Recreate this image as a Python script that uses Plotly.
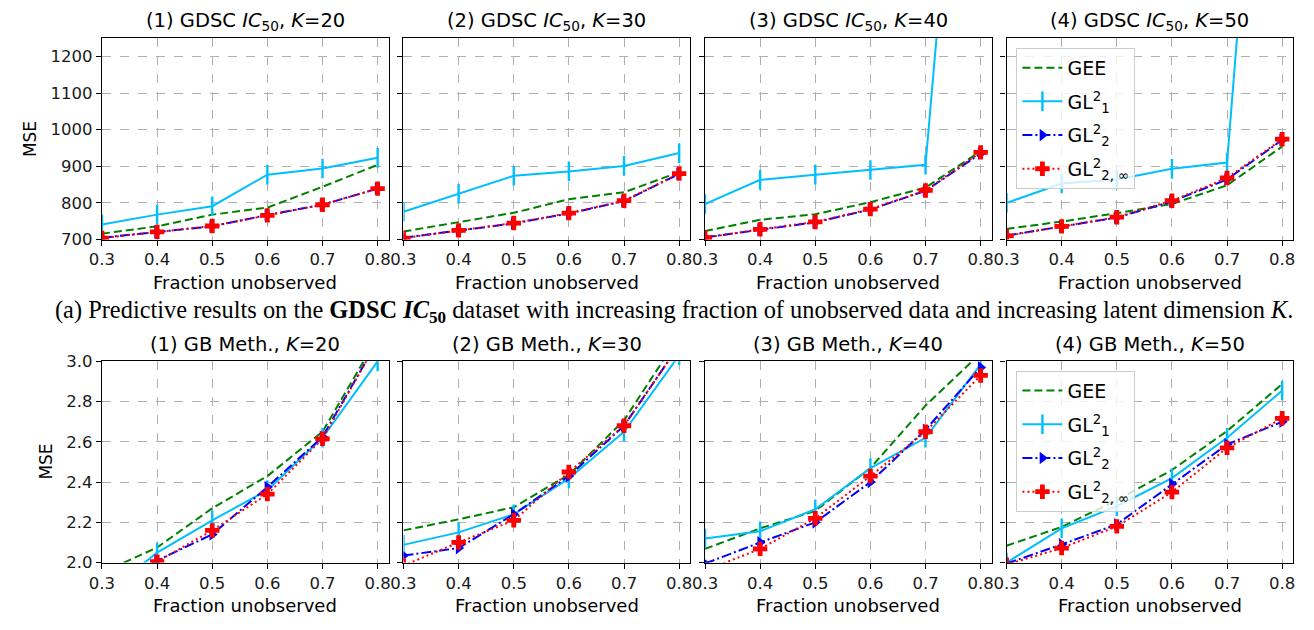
import plotly.graph_objects as go

# Fraction of entries held out
fractions = [0.3, 0.4, 0.5, 0.6, 0.7, 0.8]
latent_dims = [20, 30, 40, 50]

# GDSC IC50 results (MSE), keyed by latent dimension K
gdsc_gee = {20: [716, 736, 768, 787, 844, 904],
            30: [722, 747, 773, 810, 829, 884],
            40: [723, 754, 769, 802, 842, 941],
            50: [729, 749, 772, 797, 848, 954]}
gdsc_gl1 = {20: [741, 768, 791, 877, 894, 923],
            30: [776, 825, 874, 886, 901, 936],
            40: [797, 863, 877, 890, 904, 2650],
            50: [800, 853, 864, 893, 910, 2800]}
gdsc_gl2 = {20: [705, 720, 736, 767, 795, 839],
            30: [705, 724, 744, 771, 805, 879],
            40: [706, 727, 747, 782, 833, 935],
            50: [711, 735, 760, 804, 864, 972]}
gdsc_gl2inf = {20: [704, 721, 737, 766, 795, 839],
               30: [704, 725, 745, 772, 806, 880],
               40: [705, 728, 748, 783, 834, 938],
               50: [710, 736, 761, 806, 868, 974]}

# GB methylation results (MSE), keyed by latent dimension K
gb_gee = {20: [1.95, 2.075, 2.27, 2.43, 2.65, 3.12],
          30: [2.16, 2.215, 2.275, 2.437, 2.707, 3.126],
          40: [2.068, 2.17, 2.257, 2.47, 2.78, 3.04],
          50: [2.084, 2.177, 2.31, 2.46, 2.654, 2.887]}
gb_gl1 = {20: [1.83, 2.05, 2.21, 2.36, 2.62, 3.0],
          30: [2.088, 2.15, 2.24, 2.418, 2.65, 3.03],
          40: [2.12, 2.156, 2.265, 2.47, 2.62, 2.985],
          50: [2.0, 2.17, 2.28, 2.42, 2.62, 2.855]}
gb_gl2 = {20: [1.9, 2.01, 2.14, 2.375, 2.625, 3.1],
          30: [2.035, 2.072, 2.24, 2.43, 2.68, 3.08],
          40: [1.995, 2.1, 2.2, 2.40, 2.66, 2.97],
          50: [1.995, 2.09, 2.19, 2.39, 2.587, 2.70]}
gb_gl2inf = {20: [1.88, 2.005, 2.16, 2.34, 2.615, 3.1],
             30: [1.985, 2.1, 2.21, 2.45, 2.68, 3.08],
             40: [1.96, 2.068, 2.22, 2.43, 2.65, 2.93],
             50: [1.99, 2.072, 2.18, 2.35, 2.57, 2.717]}

x_ticks = [0.3, 0.4, 0.5, 0.6, 0.7, 0.8]
gdsc_yticks = [700, 800, 900, 1000, 1100, 1200]
gb_yticks = [2.0, 2.2, 2.4, 2.6, 2.8, 3.0]

W, H = 1314, 630
FONT = "DejaVu Sans"

# method key, legend label, line style, marker style
methods = [
    ("GEE", "GEE", dict(color="#008000", dash="8px,4px"), None),
    ("GL1", "GL<sup>2</sup><sub>1</sub>", dict(color="#00bfff", dash="solid"),
     dict(symbol="line-ns", size=14, line=dict(width=2.4, color="#00bfff"))),
    ("GL2", "GL<sup>2</sup><sub>2</sub>", dict(color="#0000ff", dash="10px,3px,2px,3px"),
     dict(symbol="triangle-right", size=11, color="#0000ff")),
    ("GL2inf", "GL<sup>2</sup><sub>2, \u221e</sub>", dict(color="#ff0000", dash="2px,3px"),
     dict(symbol="cross", size=12, color="#ff0000")),
]

rows = [
    dict(series={"GEE": gdsc_gee, "GL1": gdsc_gl1, "GL2": gdsc_gl2, "GL2inf": gdsc_gl2inf},
         yrange=[700, 1250], yticks=gdsc_yticks, labels=[str(v) for v in gdsc_yticks],
         top=30.0, bottom=237.7,
         title="({i}) GDSC <i>IC</i><sub>50</sub>, <i>K</i>={k}", legend="legend",
         mse_x=17.5),
    dict(series={"GEE": gb_gee, "GL1": gb_gl1, "GL2": gb_gl2, "GL2inf": gb_gl2inf},
         yrange=[2.0, 3.0], yticks=gb_yticks, labels=[f"{v:.1f}" for v in gb_yticks],
         top=363.3, bottom=570.8,
         title="({i}) GB Meth., <i>K</i>={k}", legend="legend2",
         mse_x=33),
]
col_lefts = [90, 395, 700, 1005]
col_width = 290

fig = go.Figure()
annotations = []
layout = {}

for r, row in enumerate(rows):
    for c, k in enumerate(latent_dims):
        idx = r * 4 + c + 1
        xa = "x" if idx == 1 else f"x{idx}"
        ya = "y" if idx == 1 else f"y{idx}"
        x0 = col_lefts[c]
        x1 = x0 + col_width
        for name, label, line, marker in methods:
            tr = dict(
                x=fractions, y=row["series"][name][k],
                mode="lines" if marker is None else "lines+markers",
                name=label, line=dict(width=2, **line),
                xaxis=xa, yaxis=ya,
                legend=row["legend"], legendgroup=f"{name}-{r}",
                showlegend=(c == 3),
            )
            if marker is not None:
                tr["marker"] = marker
            fig.add_trace(go.Scatter(**tr))

        axis_common = dict(
            showline=True, linecolor="black", linewidth=1.3, mirror=True,
            ticks="outside", ticklen=5, tickwidth=1.3, tickcolor="black",
            showgrid=True, gridcolor="#b0b0b0", griddash="dash", gridwidth=1,
            zeroline=False, tickfont=dict(family=FONT, size=16.5, color="#1a1a1a"),
        )
        layout["xaxis" if idx == 1 else f"xaxis{idx}"] = dict(
            domain=[x0 / W, x1 / W], range=[0.3, 0.82],
            tickvals=x_ticks, ticktext=[f"{v:.1f}" for v in x_ticks],
            anchor=ya, **axis_common)
        layout["yaxis" if idx == 1 else f"yaxis{idx}"] = dict(
            domain=[1 - row["bottom"] / H, 1 - row["top"] / H], range=row["yrange"],
            tickvals=row["yticks"],
            ticktext=row["labels"] if c == 0 else [""] * len(row["yticks"]),
            anchor=xa, **axis_common)

        # panel title
        annotations.append(dict(
            text=row["title"].format(i=c + 1, k=k), xref="paper", yref="paper",
            x=(x0 + x1) / 2 / W, y=1 - (row["top"] - 17) / H,
            xanchor="center", yanchor="middle", showarrow=False,
            font=dict(family=FONT, size=19.5, color="black")))
        # x-axis label
        annotations.append(dict(
            text="Fraction unobserved", xref="paper", yref="paper",
            x=(x0 + x1) / 2 / W, y=1 - (row["bottom"] + 44.5) / H,
            xanchor="center", yanchor="middle", showarrow=False,
            font=dict(family=FONT, size=18, color="black")))
    # y-axis label
    annotations.append(dict(
        text="MSE", xref="paper", yref="paper", textangle=-90,
        x=row["mse_x"] / W, y=1 - (row["top"] + row["bottom"]) / 2 / H,
        xanchor="center", yanchor="middle", showarrow=False,
        font=dict(family=FONT, size=17, color="black")))

# caption between the two rows
annotations.append(dict(
    text="(a) Predictive results on the <b>GDSC</b> <b><i>IC</i></b><b><sub>50</sub></b> "
         "dataset with increasing fraction of unobserved data and increasing latent dimension <i>K</i>.",
    xref="paper", yref="paper", x=669 / W, y=1 - 312 / H,
    xanchor="center", yanchor="middle", showarrow=False,
    font=dict(family="Liberation Serif", size=24.4, color="black")))

legend_common = dict(
    xanchor="left", yanchor="top", bgcolor="rgba(255,255,255,0.8)",
    bordercolor="#cccccc", borderwidth=1, traceorder="grouped",
    tracegroupgap=6,
    font=dict(family=FONT, size=19, color="black"), itemwidth=40,
)
layout["legend"] = dict(x=1015 / W, y=1 - 40 / H, **legend_common)
layout["legend2"] = dict(x=1015 / W, y=1 - 373 / H, **legend_common)

fig.update_layout(
    width=W, height=H, margin=dict(l=0, r=0, t=0, b=0),
    paper_bgcolor="white", plot_bgcolor="white",
    annotations=annotations, **layout)

fig.write_html("out.html")
